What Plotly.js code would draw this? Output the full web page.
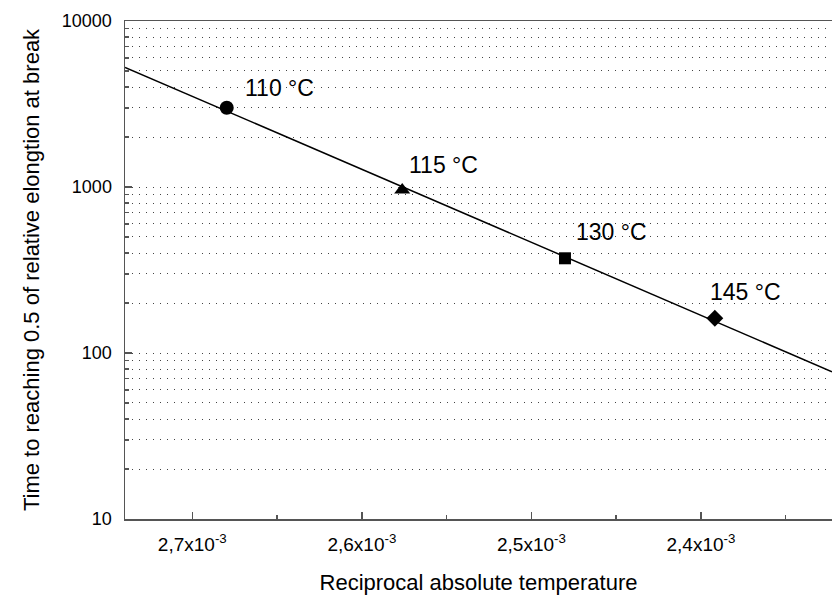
<!DOCTYPE html>
<html>
<head>
<meta charset="utf-8">
<script src="https://cdn.plot.ly/plotly-3.0.1.min.js"></script>
<style>
html, body { margin: 0; padding: 0; background: #fff; }
#chart { width: 832px; height: 595px; }
</style>
</head>
<body>
<div id="chart"></div>
<script>
// ---- data ----
var temperatures = ['110 °C', '115 °C', '130 °C', '145 °C'];
var reciprocalT = [2.6797e-3, 2.5762e-3, 2.4802e-3, 2.3918e-3];
var timeValues = [3000, 960, 372, 162];
var markerSymbols = ['circle', 'triangle-up', 'square', 'diamond'];
var markerSizes = [14, 14, 12, 13];

var fitX = [2.7397e-3, 2.3227e-3];
var fitY = [5260, 77.1];

var xTickVals = [2.7e-3, 2.6e-3, 2.5e-3, 2.4e-3];
var xTickText = ['2,7x10<sup>-3</sup>', '2,6x10<sup>-3</sup>', '2,5x10<sup>-3</sup>', '2,4x10<sup>-3</sup>'];
var yTickVals = [10, 100, 1000, 10000];
var yTickText = ['10', '100', '1000', '10000'];

// label offsets (px) relative to each point
var labelShifts = [[16, 20], [5, 25], [9, 26], [-7, 26]];

var yMinor = [];
[10, 100, 1000].forEach(function (d) {
  for (var k = 2; k <= 9; k++) yMinor.push(k * d);
});

var font = 'Liberation Sans, Arial, sans-serif';

var traces = [
  {
    x: fitX, y: fitY, mode: 'lines', type: 'scatter',
    line: { color: '#000', width: 1.5 }, hoverinfo: 'skip', showlegend: false
  },
  {
    x: reciprocalT, y: timeValues, mode: 'markers', type: 'scatter',
    marker: { symbol: markerSymbols, size: markerSizes, color: '#000', opacity: 1,
              line: { width: 0, color: '#000' } },
    showlegend: false
  }
];

var annotations = temperatures.map(function (t, i) {
  return {
    x: reciprocalT[i], y: Math.log10(timeValues[i]),
    xref: 'x', yref: 'y', text: t, showarrow: false,
    xanchor: 'left', yanchor: 'middle',
    xshift: labelShifts[i][0], yshift: labelShifts[i][1],
    font: { family: font, size: 23, color: '#000' }
  };
});

var layout = {
  width: 832, height: 595,
  margin: { l: 125, r: 0, t: 21, b: 76 },
  paper_bgcolor: '#fff', plot_bgcolor: '#fff',
  font: { family: font, color: '#000' },
  showlegend: false,
  xaxis: {
    range: [fitX[0], fitX[1]],
    tickmode: 'array', tickvals: xTickVals, ticktext: xTickText,
    ticks: 'inside', ticklen: 7, tickwidth: 1.5, tickcolor: '#555',
    ticklabelstandoff: 8,
    minor: { dtick: 0.05e-3, tick0: 0, ticks: 'inside', ticklen: 4, tickwidth: 1.5, tickcolor: '#555', showgrid: false },
    showgrid: false, zeroline: false,
    showline: true, linecolor: '#555', linewidth: 1.5, mirror: true,
    tickfont: { family: font, size: 19, color: '#000' },
    title: { text: 'Reciprocal absolute temperature', font: { family: font, size: 22, color: '#000' }, standoff: 24 }
  },
  yaxis: {
    type: 'log', range: [1, 4],
    tickmode: 'array', tickvals: yTickVals, ticktext: yTickText,
    ticks: 'inside', ticklen: 7, tickwidth: 1.5, tickcolor: '#555',
    ticklabelstandoff: 8,
    showgrid: true, gridcolor: '#444', gridwidth: 1, griddash: '1px,6px',
    minor: { tickvals: yMinor, ticks: 'inside', ticklen: 4, tickwidth: 1.5, tickcolor: '#555',
             showgrid: true, gridcolor: '#444', gridwidth: 1, griddash: '1px,6px' },
    zeroline: false, showline: true, linecolor: '#555', linewidth: 1.5,
    tickfont: { family: font, size: 18, color: '#000' },
    title: { text: 'Time to reaching 0.5 of relative elongtion at break', font: { family: font, size: 22, color: '#000' }, standoff: 16 }
  },
  annotations: annotations
};

Plotly.newPlot('chart', traces, layout, { displayModeBar: false, staticPlot: true });
</script>
</body>
</html>
